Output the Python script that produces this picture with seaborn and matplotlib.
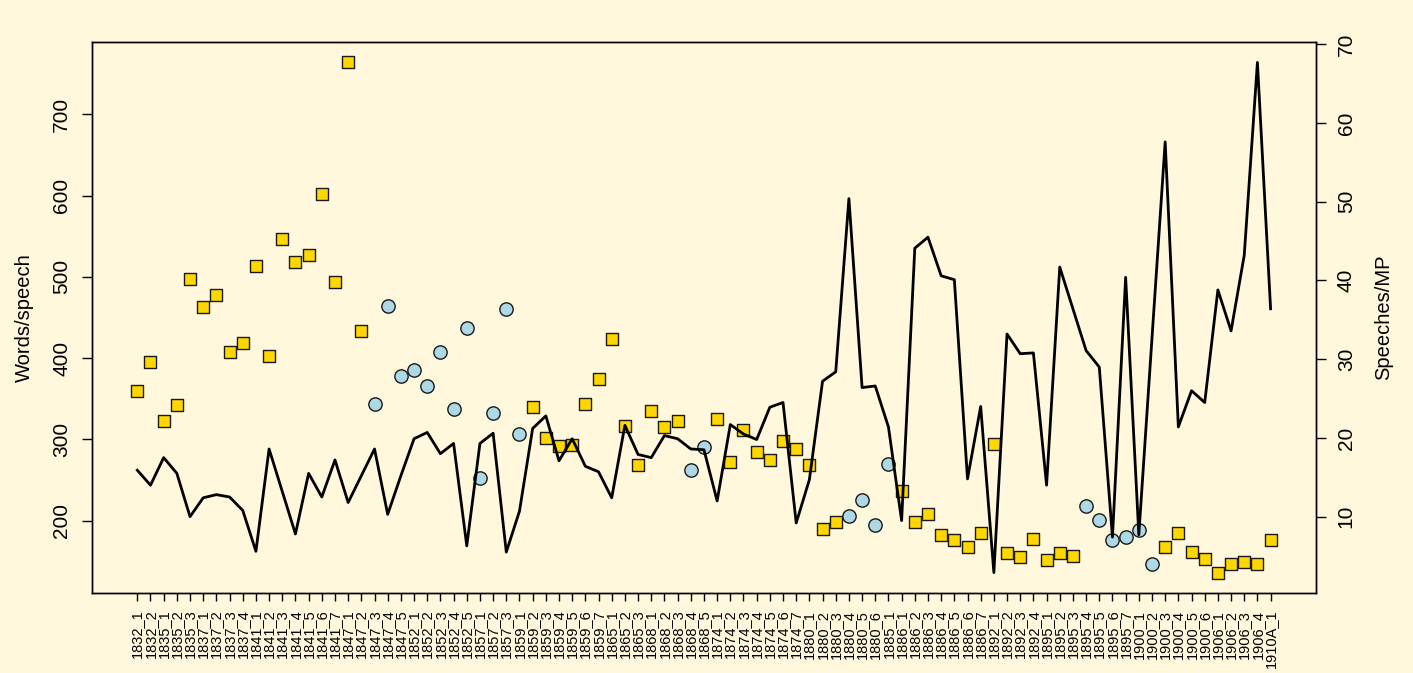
import numpy as np
import pandas as pd
import matplotlib
matplotlib.use("Agg")
import matplotlib.pyplot as plt
import seaborn as sns

# Parliamentary sessions, in order
sessions = [
    "1832_1", "1832_2", "1835_1", "1835_2", "1835_3", "1837_1", "1837_2", "1837_3", "1837_4",
    "1841_1", "1841_2", "1841_3", "1841_4", "1841_5", "1841_6", "1841_7",
    "1847_1", "1847_2", "1847_3", "1847_4", "1847_5",
    "1852_1", "1852_2", "1852_3", "1852_4", "1852_5",
    "1857_1", "1857_2", "1857_3",
    "1859_1", "1859_2", "1859_3", "1859_4", "1859_5", "1859_6", "1859_7",
    "1865_1", "1865_2", "1865_3",
    "1868_1", "1868_2", "1868_3", "1868_4", "1868_5",
    "1874_1", "1874_2", "1874_3", "1874_4", "1874_5", "1874_6", "1874_7",
    "1880_1", "1880_2", "1880_3", "1880_4", "1880_5", "1880_6",
    "1885_1",
    "1886_1", "1886_2", "1886_3", "1886_4", "1886_5", "1886_6", "1886_7",
    "1892_1", "1892_2", "1892_3", "1892_4",
    "1895_1", "1895_2", "1895_3", "1895_4", "1895_5", "1895_6", "1895_7",
    "1900_1", "1900_2", "1900_3", "1900_4", "1900_5", "1900_6",
    "1906_1", "1906_2", "1906_3", "1906_4",
    "1910A_1",
]

# Mean words per speech (left axis, points)
words_per_speech = [
    359, 395, 322, 342, 497, 463, 478, 407, 419, 513,
    402, 546, 518, 527, 602, 494, 764, 433, 343, 464,
    378, 385, 366, 408, 337, 437, 253, 333, 460, 306,
    340, 302, 292, 293, 344, 374, 423, 317, 269, 335,
    315, 323, 262, 290, 325, 272, 312, 285, 275, 298,
    288, 269, 190, 198, 206, 225, 194, 270, 237, 198,
    208, 182, 176, 168, 185, 294, 160, 155, 177, 151,
    160, 156, 218, 201, 176, 180, 189, 146, 167, 185,
    161, 153, 136, 146, 149, 147, 176,
]

# Speeches per MP (right axis, line)
speeches_per_mp = [
    15.9, 14.0, 17.5, 15.5, 10.0, 12.4, 12.8, 12.5, 10.8, 5.6,
    18.6, 13.2, 7.8, 15.5, 12.5, 17.2, 11.8, 15.2, 18.6, 10.3,
    15.2, 19.9, 20.7, 18.0, 19.3, 6.3, 19.3, 20.6, 5.5, 10.7,
    21.2, 22.8, 17.1, 19.9, 16.4, 15.7, 12.4, 21.6, 17.9, 17.5,
    20.3, 19.9, 18.6, 18.5, 12.0, 21.7, 20.5, 19.8, 23.9, 24.5,
    9.2, 14.7, 27.2, 28.4, 50.4, 26.4, 26.6, 21.4, 9.5, 44.1,
    45.5, 40.6, 40.1, 14.8, 24.0, 2.9, 33.2, 30.7, 30.8, 14.0,
    41.7, 36.4, 31.1, 29.0, 7.4, 40.4, 7.7, 32.7, 57.6, 21.4,
    26.0, 24.5, 38.8, 33.6, 43.2, 67.7, 36.4,
]

# Sessions drawn with the light-blue circle marker; the rest are gold squares
blue_sessions = [
    "1847_3", "1847_4", "1847_5", "1852_1", "1852_2", "1852_3", "1852_4", "1852_5",
    "1857_1", "1857_2", "1857_3", "1859_1",
    "1868_4", "1868_5",
    "1880_4", "1880_5", "1880_6", "1885_1",
    "1895_4", "1895_5", "1895_6", "1895_7", "1900_1", "1900_2",
]

left_ticks = [200, 300, 400, 500, 600, 700]
right_ticks = [10, 20, 30, 40, 50, 60, 70]

bg = "#FFF8DC"
plt.rcParams["font.family"] = ["Liberation Sans", "DejaVu Sans"]

df = pd.DataFrame({
    "session": sessions,
    "words": words_per_speech,
    "speeches": speeches_per_mp,
})
df["pos"] = np.arange(len(df))
df["group"] = np.where(df["session"].isin(blue_sessions), "blue", "gold")


def padded(values, frac=0.04):
    lo, hi = min(values), max(values)
    span = hi - lo
    return lo - frac * span, hi + frac * span


fig = plt.figure(figsize=(14.13, 6.73), dpi=100, facecolor=bg)
ax = fig.add_axes([0.0651, 0.1189, 0.8662, 0.8187])
ax.set_facecolor(bg)

sns.scatterplot(data=df[df["group"] == "gold"], x="pos", y="words", marker="s",
                color="#FFD700", edgecolor="#1a1a1a", linewidth=1.0, s=66,
                ax=ax, zorder=3)
sns.scatterplot(data=df[df["group"] == "blue"], x="pos", y="words", marker="o",
                color="#ADD8E6", edgecolor="#1a1a1a", linewidth=1.0, s=92,
                ax=ax, zorder=3)

ax2 = ax.twinx()
sns.lineplot(data=df, x="pos", y="speeches", color="black", linewidth=2.0, ax=ax2)

n = len(df)
ax.set_xlim(-0.04 * (n - 1), (n - 1) * 1.04)
ax.set_ylim(*padded(words_per_speech))
ax2.set_ylim(*padded(speeches_per_mp))

ax.set_xticks(df["pos"])
ax.set_xticklabels(sessions, rotation=90, fontsize=10.5)
ax.set_yticks(left_ticks)
ax.set_yticklabels([str(t) for t in left_ticks], rotation=90, va="center", fontsize=15)
ax2.set_yticks(right_ticks)
ax2.set_yticklabels([str(t) for t in right_ticks], rotation=90, va="center", fontsize=15)

ax.tick_params(axis="x", length=6, width=1, pad=6, colors="black")
ax.tick_params(axis="y", length=7, width=1, pad=8, colors="black")
ax2.tick_params(axis="y", length=7, width=1, pad=8, colors="black")

ax.set_xlabel("")
ax2.set_xlabel("")
ax.set_ylabel("Words/speech", fontsize=14.5, labelpad=13)
ax2.set_ylabel("Speeches/MP", fontsize=14.5, labelpad=13)

for a in (ax, ax2):
    for sp in a.spines.values():
        sp.set_color("black")
        sp.set_linewidth(1.0)
    a.grid(False)

fig.savefig("out.png", dpi=100, facecolor=bg)
